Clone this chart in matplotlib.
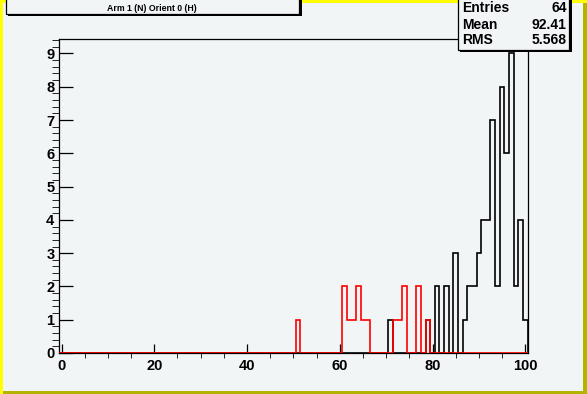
import numpy as np
import matplotlib
matplotlib.use('Agg')
import matplotlib.pyplot as plt
from matplotlib.patches import Rectangle

plt.rcParams['font.family'] = ['Liberation Sans', 'DejaVu Sans']
plt.rcParams['font.weight'] = 'bold'

W, H = 587, 394
BG = '#f2f5f6'

# histogram contents (bins of width 1, centred on integers 0..100)
black_bins = [71, 79, 81, 83, 85, 87, 88, 89, 90, 91, 92, 93, 94, 95, 96, 97, 98, 99, 100]
black_counts = [1, 1, 2, 2, 3, 1, 2, 2, 3, 4, 4, 7, 2, 8, 6, 9, 2, 4, 1]
red_bins = [51, 61, 62, 63, 64, 65, 66, 72, 73, 74, 77, 79]
red_counts = [1, 2, 1, 1, 2, 1, 1, 1, 1, 2, 2, 1]

title = 'Arm 1 (N) Orient 0 (H)'
stat_names = ['Entries', 'Mean', 'RMS']
stat_values = ['64', '92.41', '5.568']
x_ticks = [0, 20, 40, 60, 80, 100]
y_ticks = list(range(10))


def fx(x):
    return x / W


def fy(y):
    return 1 - y / H


edges = np.arange(-0.5, 101.5, 1.0)
h_black = np.zeros(101)
h_black[black_bins] = black_counts
h_red = np.zeros(101)
h_red[red_bins] = red_counts

fig = plt.figure(figsize=(W / 100, H / 100), dpi=100)
fig.patch.set_facecolor(BG)

ax = fig.add_axes([fx(59.2), fy(353), fx(527.6) - fx(59.2), fy(38.5) - fy(353)])
ax.set_facecolor(BG)
ax.stairs(h_black, edges, color='black', lw=1.2, baseline=0, zorder=3)
ax.stairs(h_red, edges, color='red', lw=1.2, baseline=0, zorder=4)

ax.set_xlim(-0.5, 100.5)
ax.set_ylim(0, 9.45)
ax.set_xticks(x_ticks)
ax.set_xticks(np.arange(0, 101, 5), minor=True)
ax.set_yticks(y_ticks)
ax.set_yticks(np.arange(0, 9.45, 0.2), minor=True)
ax.tick_params(axis='both', direction='in', top=False, right=False, labelsize=10.5, width=0.9)
ax.tick_params(axis='x', which='major', length=6.5, pad=4)
ax.tick_params(axis='x', which='minor', length=3.3)
ax.tick_params(axis='y', which='major', length=10, pad=3.5)
ax.tick_params(axis='y', which='minor', length=5)
for lab in ax.get_xticklabels() + ax.get_yticklabels():
    lab.set_fontweight('bold')
for sp in ax.spines.values():
    sp.set_linewidth(0.9)

# canvas bevel: light top/left, dark bottom/right
fig.add_artist(Rectangle((0, fy(3)), 1, 3 / H, transform=fig.transFigure, color='#ffff00', lw=0))
fig.add_artist(Rectangle((0, 0), 3 / W, 1, transform=fig.transFigure, color='#ffff00', lw=0))
fig.add_artist(Rectangle((fx(583), 0), 4 / W, fy(3), transform=fig.transFigure, color='#b3b300', lw=0))
fig.add_artist(Rectangle((3 / W, 0), 1, 3 / H, transform=fig.transFigure, color='#b3b300', lw=0))


def box(x0, y0, x1, y1):
    fig.add_artist(Rectangle((fx(x0 + 2.5), fy(y1 + 2.5)), fx(x1 - x0), (y1 - y0) / H,
                             transform=fig.transFigure, facecolor='black', lw=0, zorder=5))
    fig.add_artist(Rectangle((fx(x0), fy(y1)), fx(x1 - x0), (y1 - y0) / H,
                             transform=fig.transFigure, facecolor=BG, edgecolor='black',
                             lw=0.9, zorder=6))


# title box
box(5.5, -5, 299.5, 13.5)
fig.text(fx(152), fy(8.5), title, fontsize=6.3, fontweight='bold', ha='center', va='center', zorder=7)

# stats box
box(457.5, -5, 569, 49.5)
for i, (name, val) in enumerate(zip(stat_names, stat_values)):
    yb = [12.5, 29, 44.5][i]
    fig.text(fx(462), fy(yb), name, fontsize=10, fontweight='bold', ha='left', va='baseline', zorder=7)
    fig.text(fx(566.5), fy(yb), val, fontsize=10, fontweight='bold', ha='right', va='baseline', zorder=7)

fig.savefig('out.png', dpi=100, facecolor=BG)
